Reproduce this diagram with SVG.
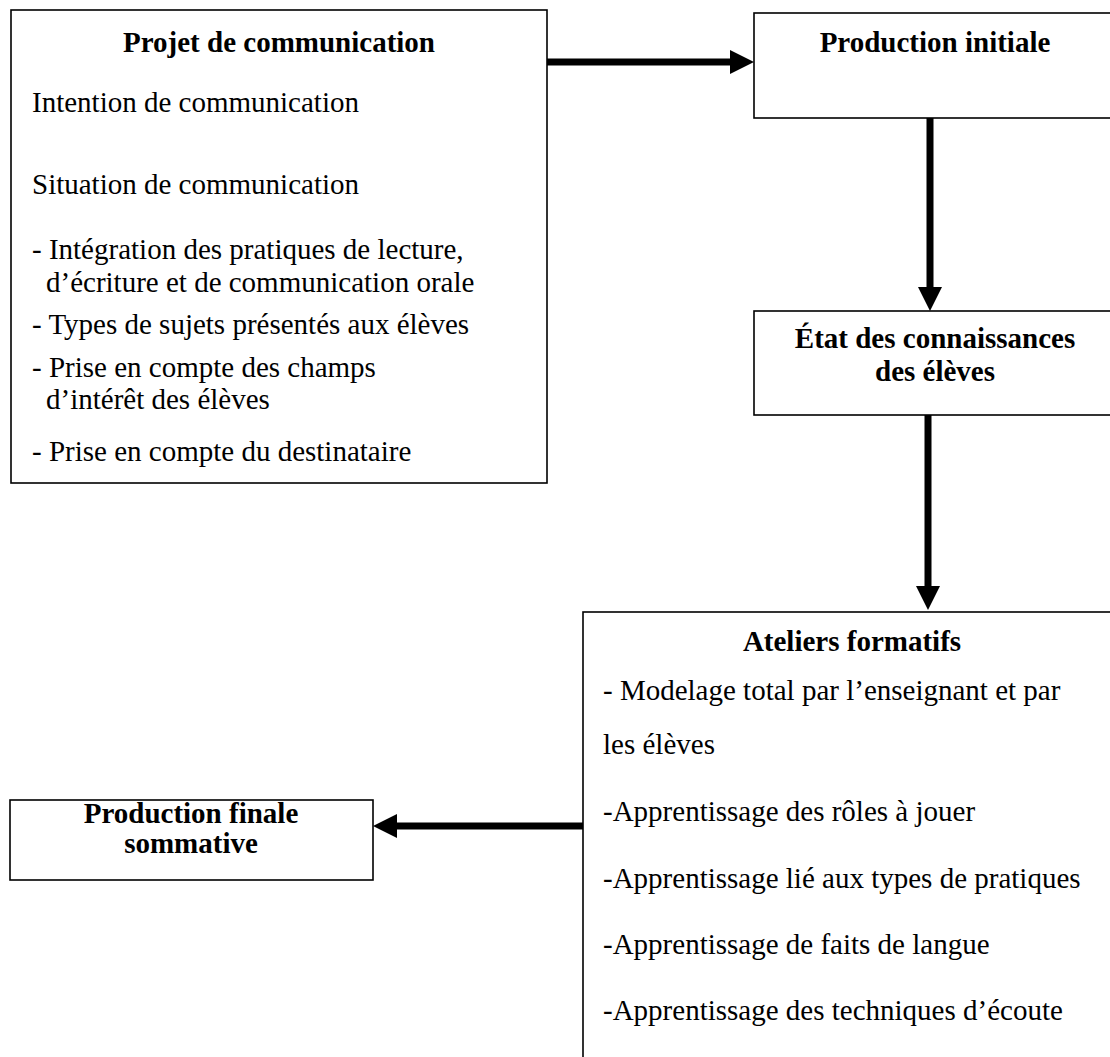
<svg xmlns="http://www.w3.org/2000/svg" width="1110" height="1057" viewBox="0 0 1110 1057">
<style>
  .box { fill: #ffffff; stroke: #000000; stroke-width: 1.6; }
  .t { font-family: "Liberation Serif", "Times New Roman", serif; font-size: 29px; fill: #000000; }
  .b { font-weight: bold; text-anchor: middle; }
  .conn { stroke: #000000; stroke-width: 7; fill: none; marker-end: url(#ah); }
</style>
<defs>
  <marker id="ah" viewBox="0 0 24 24" markerWidth="24" markerHeight="24" refX="2" refY="12" orient="auto" markerUnits="userSpaceOnUse">
    <path d="M0,0 L24,12 L0,24 Z" fill="#000000"/>
  </marker>
</defs>
<rect width="1110" height="1057" fill="#ffffff"/>

<g id="projet">
  <rect class="box" x="11" y="10" width="536" height="473"/>
  <text class="t b" x="279" y="52">Projet de communication</text>
  <text class="t" x="32" y="112">Intention de communication</text>
  <text class="t" x="32" y="194">Situation de communication</text>
  <text class="t" x="32" y="259">- Intégration des pratiques de lecture,</text>
  <text class="t" x="46" y="292">d’écriture et de communication orale</text>
  <text class="t" x="32" y="334">- Types de sujets présentés aux élèves</text>
  <text class="t" x="32" y="377">- Prise en compte des champs</text>
  <text class="t" x="46" y="409">d’intérêt des élèves</text>
  <text class="t" x="32" y="461">- Prise en compte du destinataire</text>
</g>

<g id="production-initiale">
  <rect class="box" x="754" y="13" width="370" height="105"/>
  <text class="t b" x="935" y="52">Production initiale</text>
</g>

<g id="etat">
  <rect class="box" x="754" y="311" width="370" height="104"/>
  <text class="t b" x="935" y="348">État des connaissances</text>
  <text class="t b" x="935" y="381">des élèves</text>
</g>

<g id="ateliers">
  <rect class="box" x="583" y="612" width="545" height="460"/>
  <text class="t b" x="852" y="651">Ateliers formatifs</text>
  <text class="t" x="603" y="700">- Modelage total par l’enseignant et par</text>
  <text class="t" x="603" y="754">les élèves</text>
  <text class="t" x="603" y="821">-Apprentissage des rôles à jouer</text>
  <text class="t" x="603" y="888">-Apprentissage lié aux types de pratiques</text>
  <text class="t" x="603" y="954">-Apprentissage de faits de langue</text>
  <text class="t" x="603" y="1020">-Apprentissage des techniques d’écoute</text>
</g>

<g id="production-finale">
  <rect class="box" x="10" y="800" width="363" height="80"/>
  <text class="t b" x="191" y="823">Production finale</text>
  <text class="t b" x="191" y="853">sommative</text>
</g>

<g id="connectors">
  <line class="conn" x1="547" y1="62" x2="732" y2="62"/>
  <line class="conn" x1="930" y1="118" x2="930" y2="289"/>
  <line class="conn" x1="928" y1="415" x2="928" y2="588"/>
  <line class="conn" x1="583" y1="826" x2="395" y2="826"/>
</g>
</svg>
